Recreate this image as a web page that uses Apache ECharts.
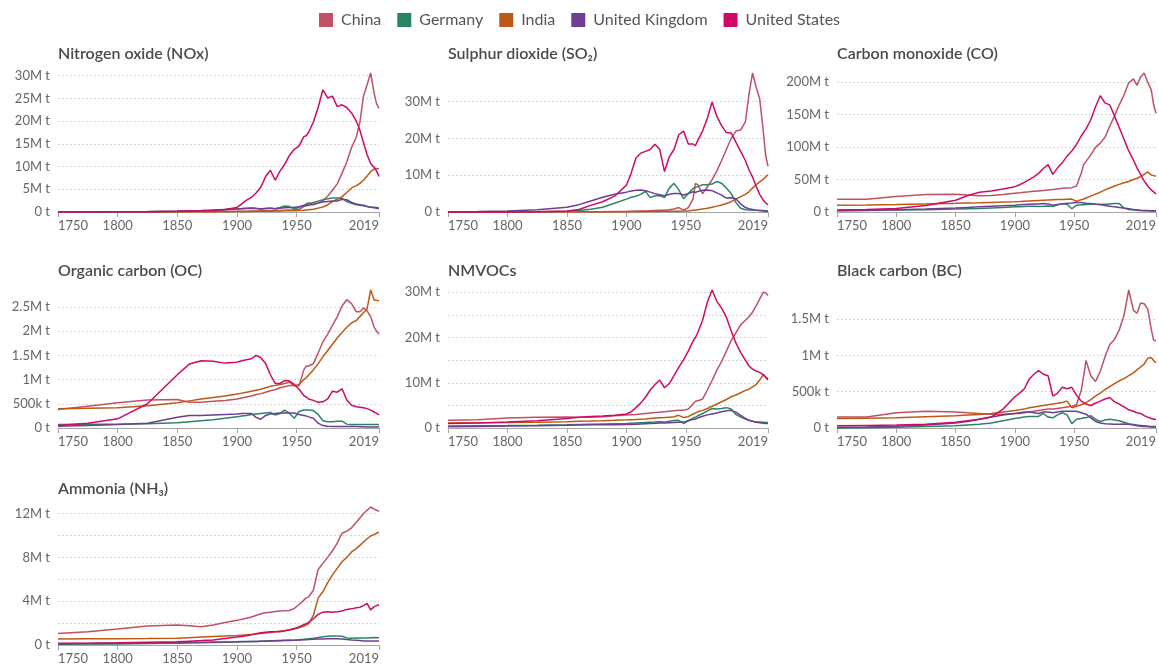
<!DOCTYPE html>
<html><head><meta charset="utf-8">
<script src="https://cdn.jsdelivr.net/npm/echarts@6/dist/echarts.min.js"></script>
<style>html,body{margin:0;padding:0;background:#fff}#c{width:1159px;height:665px}</style>
</head><body><div id="c"></div>
<script>
const YEARS = [1750,1775,1800,1825,1850,1860,1870,1880,1890,1900,
  1904,1908,1912,1916,1920,1924,1928,1932,1936,1940,
  1944,1948,1952,1956,1958,1960,1964,1968,1972,1976,
  1980,1984,1988,1992,1996,2000,2003,2006,2009,2012,
  2015,2017,2019];
const COUNTRIES = ['China','Germany','India','United Kingdom','United States'];
const X_TICKS = [1750,1800,1850,1900,1950,2019];

// Nitrogen oxide (Mt)
const NOX_CHINA = [0.05,0.05,0.06,0.07,0.08,0.09,0.1,0.11,0.13,0.15,
  0.17,0.19,0.21,0.23,0.25,0.28,0.3,0.32,0.35,0.4,
  0.42,0.4,0.6,1.2,1.8,2.0,1.6,2.0,2.4,3.5,
  4.8,6.2,8.5,11.0,14.2,16.5,19.8,25.5,28.0,30.6,
  26.0,23.8,22.8];
const NOX_GERMANY = [0.01,0.01,0.02,0.04,0.1,0.15,0.25,0.35,0.5,0.7,
  0.75,0.85,0.9,0.8,0.6,0.75,0.9,0.7,1.0,1.3,
  1.2,0.6,1.1,1.5,1.6,1.8,2.1,2.4,2.7,2.9,
  3.1,3.1,3.0,2.3,1.9,1.6,1.5,1.4,1.2,1.1,
  1.05,1.0,0.9];
const NOX_INDIA = [0.03,0.03,0.04,0.04,0.05,0.06,0.07,0.08,0.09,0.1,
  0.11,0.12,0.13,0.14,0.15,0.17,0.19,0.2,0.22,0.25,
  0.27,0.3,0.35,0.4,0.45,0.5,0.6,0.85,1.1,1.6,
  2.3,2.8,3.4,4.3,5.3,5.8,6.3,7.0,7.9,8.9,
  9.5,9.6,9.5];
const NOX_UK = [0.01,0.02,0.05,0.1,0.2,0.28,0.35,0.45,0.55,0.65,
  0.7,0.75,0.8,0.78,0.72,0.75,0.78,0.7,0.85,0.95,
  1.0,1.05,1.15,1.3,1.35,1.5,1.7,1.95,2.2,2.3,
  2.4,2.4,2.8,2.7,2.1,1.75,1.6,1.5,1.2,1.05,
  0.95,0.85,0.75];
const NOX_US = [0.02,0.03,0.05,0.08,0.15,0.2,0.25,0.35,0.55,1.0,
  1.8,2.6,3.2,4.2,5.5,7.8,9.2,7.0,9.0,10.5,
  12.5,13.8,14.5,16.6,16.8,17.5,19.8,23.0,26.9,25.1,
  25.5,23.2,23.6,23.0,21.8,20.0,18.0,15.3,12.6,10.7,
  9.8,9.0,7.8];

// Sulphur dioxide (Mt)
const SO2_CHINA = [0.05,0.05,0.06,0.07,0.08,0.08,0.09,0.1,0.12,0.15,
  0.18,0.2,0.25,0.3,0.35,0.4,0.45,0.5,0.6,0.8,
  1.2,0.5,1.2,3.5,7.8,7.4,5.0,6.8,8.8,11.2,
  14.0,17.0,20.0,22.0,22.3,24.5,32.0,37.8,34.0,30.8,
  22.1,15.5,12.4];
const SO2_GERMANY = [0.01,0.01,0.02,0.05,0.2,0.4,0.75,1.3,2.4,3.5,
  4.0,4.3,4.8,5.6,3.9,4.4,4.4,3.9,6.5,7.8,
  6.0,3.6,5.0,6.4,6.7,6.9,7.4,7.4,7.6,8.3,
  7.8,6.5,5.0,2.6,1.0,0.6,0.55,0.5,0.45,0.4,
  0.38,0.35,0.3];
const SO2_INDIA = [0.02,0.02,0.03,0.04,0.05,0.06,0.07,0.08,0.09,0.1,
  0.11,0.12,0.13,0.14,0.15,0.16,0.17,0.18,0.19,0.2,
  0.22,0.25,0.3,0.45,0.5,0.6,0.8,1.0,1.3,1.6,
  1.9,2.3,2.8,3.5,4.2,4.8,5.5,6.5,7.4,8.2,
  8.9,9.5,10.1];
const SO2_UK = [0.1,0.15,0.3,0.6,1.3,2.0,3.0,4.0,4.8,5.4,
  5.7,5.9,6.0,5.8,5.4,5.0,4.7,4.4,4.8,5.0,
  5.0,4.6,5.0,5.5,5.3,5.6,5.9,6.0,5.8,5.2,
  4.6,3.8,3.9,3.6,2.2,1.2,0.9,0.7,0.45,0.4,
  0.25,0.18,0.15];
const SO2_US = [0.0,0.01,0.03,0.1,0.3,0.7,1.8,2.8,4.3,7.3,
  10.6,14.7,16.0,16.5,17.0,18.4,17.0,11.0,15.0,17.0,
  21.0,22.0,18.5,18.5,18.0,19.5,22.0,25.5,29.9,26.0,
  23.5,21.6,21.5,19.0,16.5,14.0,11.5,9.5,7.0,4.8,
  3.2,2.5,2.0];

// Carbon monoxide (Mt)
const CO_CHINA = [19.5,19.5,24,27,27.5,26,25,25.5,27,28.8,
  29.5,30.5,31,32,32.5,33,34,34.5,35.5,36.5,
  37,37.5,40,60,73,78,88,99.5,106,115,
  132,148,165,180,199,205,195,208,214,200,
  188,165,152];
const CO_GERMANY = [2.5,2.7,3,3.5,4.5,5,5.5,6.3,7,7.9,
  8.2,8.6,9,8.8,8.3,8.8,9.4,8.5,11,12.5,
  12,5,10.5,11,11.2,11.5,11.8,11.8,11.5,12,
  12.5,13,13,6,4,3,2.5,2.2,2,1.8,
  1.7,1.6,1.6];
const CO_INDIA = [10.5,10.8,11.5,12.5,13.3,13.8,14.2,14.8,15.3,15.7,
  16,16.4,16.8,17.2,17.6,18,18.4,18.8,19.1,19.4,
  19.7,19.9,16.5,19,20,21.5,24.5,27.5,30.5,34,
  37,40,42.5,45,47,50,52,54.5,58,61.8,
  57,56,55];
const CO_UK = [2,2.5,3.5,4.5,6,7,8,9,9.8,10.5,
  11,11.5,12,12.5,12.5,13,12.5,10.5,11.5,12.5,
  13.5,14,14.7,14.5,14,13.5,13,12,11.5,10,
  9,7.9,7,6,5.2,4,3.3,2.8,2.4,2.2,
  2,2,2];
const CO_US = [3,4,5.5,10,18,25,30.5,32.5,35.5,39,
  42,45.5,49.7,54,59.5,67,73,58,68,76,
  86,94,104,117,123,128,142,162,179,168,
  165,148,130,112,94,80,68,58,48,40,
  34,31,28];

// Organic carbon (Mt)
const OC_CHINA = [0.38,0.45,0.52,0.58,0.59,0.53,0.53,0.55,0.57,0.6,
  0.62,0.64,0.66,0.69,0.71,0.74,0.77,0.79,0.83,0.85,
  0.88,0.88,0.87,1.2,1.28,1.28,1.33,1.55,1.78,1.94,
  2.12,2.3,2.52,2.65,2.57,2.4,2.4,2.48,2.42,2.3,
  2.08,2.0,1.94];
const OC_GERMANY = [0.07,0.075,0.08,0.09,0.11,0.13,0.15,0.17,0.2,0.23,
  0.25,0.26,0.28,0.29,0.3,0.31,0.32,0.27,0.3,0.37,
  0.3,0.2,0.34,0.37,0.37,0.37,0.36,0.28,0.15,0.13,
  0.13,0.14,0.14,0.08,0.07,0.07,0.07,0.07,0.07,0.07,
  0.07,0.07,0.07];
const OC_INDIA = [0.4,0.41,0.42,0.46,0.52,0.56,0.6,0.63,0.66,0.7,
  0.72,0.74,0.76,0.78,0.8,0.83,0.86,0.88,0.9,0.92,
  0.95,0.87,0.9,1.0,1.04,1.09,1.2,1.33,1.47,1.6,
  1.73,1.86,1.97,2.08,2.17,2.22,2.3,2.38,2.46,2.85,
  2.64,2.64,2.62];
const OC_UK = [0.035,0.05,0.07,0.1,0.22,0.26,0.26,0.27,0.28,0.29,
  0.3,0.3,0.3,0.22,0.18,0.26,0.29,0.3,0.31,0.31,
  0.31,0.31,0.28,0.26,0.25,0.23,0.2,0.1,0.05,0.035,
  0.03,0.03,0.03,0.03,0.03,0.03,0.025,0.025,0.02,0.02,
  0.02,0.02,0.02];
const OC_US = [0.05,0.1,0.19,0.5,1.1,1.32,1.39,1.38,1.34,1.36,
  1.39,1.41,1.43,1.5,1.45,1.33,1.1,0.92,0.92,0.98,
  0.97,0.9,0.8,0.67,0.64,0.6,0.57,0.53,0.54,0.6,
  0.76,0.74,0.81,0.58,0.47,0.44,0.43,0.42,0.4,0.37,
  0.33,0.3,0.27];

// NMVOCs (Mt)
const NMVOC_CHINA = [1.7,1.8,2.2,2.4,2.45,2.35,2.35,2.5,2.7,2.85,
  2.95,3.0,3.1,3.2,3.3,3.4,3.5,3.6,3.7,3.8,
  3.9,3.9,4.2,5.3,5.9,6.0,6.4,8.4,10.5,12.8,
  14.7,17.0,19.3,21.0,22.8,23.8,24.6,25.6,27.0,28.5,
  30.0,29.9,29.3];
const NMVOC_GERMANY = [0.45,0.5,0.55,0.62,0.7,0.78,0.85,0.9,0.95,1.0,
  1.05,1.1,1.15,1.2,1.25,1.3,1.4,1.3,1.5,1.65,
  1.7,1.0,1.6,2.2,2.4,2.7,3.2,3.8,4.3,4.2,
  4.3,4.5,4.2,3.0,2.4,2.0,1.7,1.5,1.35,1.3,
  1.25,1.2,1.2];
const NMVOC_INDIA = [1.1,1.15,1.2,1.28,1.4,1.5,1.55,1.62,1.7,1.8,
  1.85,1.9,1.95,2.0,2.1,2.2,2.25,2.3,2.4,2.5,
  2.8,2.3,2.5,3.1,3.3,3.6,3.9,4.3,4.8,5.3,
  5.8,6.3,6.9,7.3,7.8,8.3,8.6,9.1,9.6,10.6,
  11.8,11.3,10.9];
const NMVOC_UK = [0.3,0.35,0.42,0.5,0.6,0.65,0.7,0.72,0.74,0.76,
  0.8,0.85,0.9,0.95,1.0,1.05,1.1,1.1,1.15,1.2,
  1.25,1.3,1.6,1.9,2.0,2.2,2.6,2.9,3.1,3.3,
  3.6,3.8,3.9,3.5,2.8,2.1,1.7,1.5,1.25,1.15,
  1.05,1.0,1.0];
const NMVOC_US = [1.0,1.1,1.3,1.6,2.1,2.4,2.55,2.65,2.8,3.1,
  3.6,4.5,5.5,6.8,8.4,9.6,10.6,8.9,9.8,11.6,
  13.4,15.1,17.0,19.2,20.0,21.1,23.8,27.8,30.5,28.0,
  26.5,24.5,21.5,18.8,16.7,15.0,13.7,13.0,12.6,12.3,
  11.8,11.2,10.6];

// Black carbon (Mt)
const BC_CHINA = [0.15,0.15,0.21,0.23,0.22,0.21,0.2,0.19,0.19,0.2,
  0.2,0.21,0.22,0.23,0.24,0.25,0.26,0.26,0.27,0.28,
  0.29,0.3,0.32,0.52,0.72,0.93,0.72,0.64,0.78,0.98,
  1.15,1.22,1.35,1.55,1.9,1.62,1.58,1.72,1.71,1.64,
  1.36,1.21,1.2];
const BC_GERMANY = [0.0,0.005,0.01,0.02,0.03,0.04,0.05,0.07,0.1,0.13,
  0.14,0.15,0.16,0.16,0.16,0.2,0.15,0.14,0.18,0.21,
  0.18,0.06,0.12,0.13,0.14,0.14,0.17,0.12,0.09,0.11,
  0.12,0.11,0.1,0.08,0.06,0.05,0.04,0.035,0.03,0.025,
  0.02,0.02,0.02];
const BC_INDIA = [0.13,0.135,0.14,0.155,0.17,0.18,0.185,0.2,0.22,0.24,
  0.25,0.26,0.28,0.29,0.3,0.31,0.32,0.33,0.34,0.35,
  0.37,0.28,0.3,0.32,0.33,0.35,0.39,0.44,0.48,0.53,
  0.57,0.61,0.65,0.68,0.72,0.76,0.8,0.84,0.88,0.96,
  0.97,0.93,0.9];
const BC_UK = [0.01,0.015,0.025,0.04,0.07,0.09,0.12,0.15,0.18,0.2,
  0.21,0.22,0.22,0.21,0.2,0.22,0.22,0.21,0.22,0.23,
  0.23,0.23,0.23,0.21,0.2,0.19,0.14,0.09,0.07,0.06,
  0.055,0.05,0.05,0.055,0.05,0.04,0.03,0.025,0.02,0.02,
  0.015,0.015,0.015];
const BC_US = [0.03,0.035,0.04,0.05,0.08,0.1,0.12,0.15,0.26,0.43,
  0.48,0.54,0.67,0.74,0.79,0.74,0.72,0.44,0.48,0.56,
  0.54,0.56,0.45,0.37,0.35,0.33,0.31,0.34,0.37,0.4,
  0.42,0.36,0.33,0.29,0.25,0.23,0.21,0.2,0.17,0.15,
  0.13,0.12,0.12];

// Ammonia (Mt)
const NH3_CHINA = [1.06,1.2,1.46,1.73,1.82,1.75,1.67,1.82,2.05,2.25,
  2.35,2.45,2.55,2.7,2.85,2.95,3.0,3.05,3.1,3.12,
  3.15,3.35,3.7,4.1,4.3,4.4,5.0,6.9,7.45,8.0,
  8.6,9.3,10.2,10.4,10.7,11.2,11.6,12.0,12.3,12.6,
  12.4,12.3,12.2];
const NH3_GERMANY = [0.06,0.08,0.1,0.13,0.17,0.19,0.21,0.22,0.24,0.27,
  0.29,0.3,0.32,0.33,0.35,0.37,0.39,0.4,0.42,0.44,
  0.45,0.43,0.47,0.52,0.55,0.57,0.62,0.68,0.75,0.79,
  0.82,0.83,0.8,0.65,0.62,0.63,0.63,0.63,0.64,0.66,
  0.68,0.67,0.66];
const NH3_INDIA = [0.55,0.56,0.57,0.59,0.62,0.67,0.72,0.77,0.82,0.87,
  0.9,0.93,0.96,1.0,1.04,1.09,1.14,1.2,1.25,1.3,
  1.36,1.45,1.58,1.73,1.82,1.95,2.7,4.3,4.86,5.7,
  6.4,7.0,7.6,8.0,8.5,8.8,9.1,9.4,9.7,9.95,
  10.1,10.2,10.3];
const NH3_UK = [0.12,0.14,0.16,0.19,0.22,0.24,0.26,0.27,0.28,0.3,
  0.31,0.32,0.33,0.33,0.34,0.35,0.36,0.37,0.38,0.4,
  0.42,0.43,0.45,0.47,0.48,0.5,0.52,0.54,0.55,0.56,
  0.57,0.57,0.55,0.5,0.46,0.43,0.4,0.37,0.36,0.36,
  0.37,0.36,0.36];
const NH3_US = [0.15,0.17,0.2,0.25,0.3,0.35,0.4,0.46,0.6,0.72,
  0.78,0.85,0.93,1.03,1.12,1.16,1.2,1.2,1.22,1.3,
  1.4,1.5,1.65,1.85,1.95,2.05,2.4,2.8,3.0,3.04,
  3.0,3.04,3.1,3.25,3.3,3.4,3.45,3.6,3.8,3.2,
  3.5,3.6,3.65];

// y-axis ticks (gridlines) and labelled ticks
const NOX_TICKS = [0,5,10,15,20,25,30];
const SO2_TICKS = [0,10,20,30];
const CO_TICKS = [0,50,100,150,200];
const OC_TICKS = [0,0.5,1,1.5,2,2.5];
const NMVOC_GRID = [0,5,10,15,20,25,30];
const NMVOC_LABELS = [0,10,20,30];
const BC_TICKS = [0,0.5,1,1.5];
const NH3_GRID = [0,2,4,6,8,10,12];
const NH3_LABELS = [0,4,8,12];

const TITLES = ['Nitrogen oxide (NOx)','Sulphur dioxide (SO\u2082)','Carbon monoxide (CO)',
  'Organic carbon (OC)','NMVOCs','Black carbon (BC)','Ammonia (NH\u2083)'];

// ---- styling / layout ----
const COLORS = ['#C15065','#2C8465','#BE5915','#6D3E91','#CF0A66'];
const COL_LEFT = [58,448,837];
const COL_W = [321,320,322];
const ROW_TOP = [73,290,507];
const ROW_H = [139,138,138];
const TITLE_TOP = [46,263,481];
const FONT = 'Lato, "Noto Sans", sans-serif';

const panels = [
  {data:[NOX_CHINA,NOX_GERMANY,NOX_INDIA,NOX_UK,NOX_US], grid:NOX_TICKS, labels:NOX_TICKS, row:0, col:0},
  {data:[SO2_CHINA,SO2_GERMANY,SO2_INDIA,SO2_UK,SO2_US], grid:SO2_TICKS, labels:SO2_TICKS, row:0, col:1},
  {data:[CO_CHINA,CO_GERMANY,CO_INDIA,CO_UK,CO_US], grid:CO_TICKS, labels:CO_TICKS, row:0, col:2},
  {data:[OC_CHINA,OC_GERMANY,OC_INDIA,OC_UK,OC_US], grid:OC_TICKS, labels:OC_TICKS, row:1, col:0},
  {data:[NMVOC_CHINA,NMVOC_GERMANY,NMVOC_INDIA,NMVOC_UK,NMVOC_US], grid:NMVOC_GRID, labels:NMVOC_LABELS, row:1, col:1},
  {data:[BC_CHINA,BC_GERMANY,BC_INDIA,BC_UK,BC_US], grid:BC_TICKS, labels:BC_TICKS, row:1, col:2},
  {data:[NH3_CHINA,NH3_GERMANY,NH3_INDIA,NH3_UK,NH3_US], grid:NH3_GRID, labels:NH3_LABELS, row:2, col:0}
];

function fmt(v){
  if (v === 0) return '0 t';
  if (v < 1) return Math.round(v*1000) + 'k t';
  return v + 'M t';
}

const chart = echarts.init(document.getElementById('c'), null, {renderer:'canvas'});
const series = [];
panels.forEach((p,i)=>{
  p.data.forEach((arr,k)=>{
    series.push({
      type:'line', name:COUNTRIES[k], xAxisIndex:i, yAxisIndex:i,
      data: YEARS.map((y,j)=>[y, arr[j]]),
      showSymbol:false, symbol:'none', silent:true, clip:false,
      color: COLORS[k],
      lineStyle:{width:1.5, color:COLORS[k]}
    });
  });
});

const option = {
  animation:false,
  backgroundColor:'#fff',
  legend:{
    data:COUNTRIES, top:12, left:'center', padding:0, icon:'rect', itemWidth:14, itemHeight:14, itemGap:16,
    textStyle:{fontFamily:FONT, fontSize:16, color:'#555', padding:[0,0,0,3]}
  },
  title: panels.map((p,i)=>({
    text:TITLES[i], left:COL_LEFT[p.col], top:TITLE_TOP[p.row], padding:0,
    textStyle:{fontFamily:FONT, fontSize:16, fontWeight:600, color:'#4a4a4a'}
  })),
  grid: panels.map(p=>({left:COL_LEFT[p.col], top:ROW_TOP[p.row], width:COL_W[p.col], height:ROW_H[p.row]})),
  xAxis: panels.map((p,i)=>({
    gridIndex:i, type:'value', min:1750, max:2019,
    axisLine:{show:true, lineStyle:{color:'#a6a6a6', width:1}},
    axisTick:{show:true, length:5, customValues:X_TICKS, lineStyle:{color:'#a6a6a6'}},
    axisLabel:{customValues:X_TICKS, formatter:v=>String(v), alignMinLabel:'left', alignMaxLabel:'right',
      color:'#666', fontSize:13, fontFamily:FONT, margin:7},
    splitLine:{show:false}
  })),
  yAxis: panels.map((p,i)=>({
    gridIndex:i, type:'value', min:0, max:'dataMax',
    axisLine:{show:false},
    axisTick:{show:false, customValues:p.grid},
    axisLabel:{customValues:p.labels, formatter:fmt, color:'#666', fontSize:13, fontFamily:FONT, margin:8},
    splitLine:{show:true, lineStyle:{color:'#d6d6d6', type:[2,2], width:1}}
  })),
  series: series
};
chart.setOption(option);
</script></body></html>
